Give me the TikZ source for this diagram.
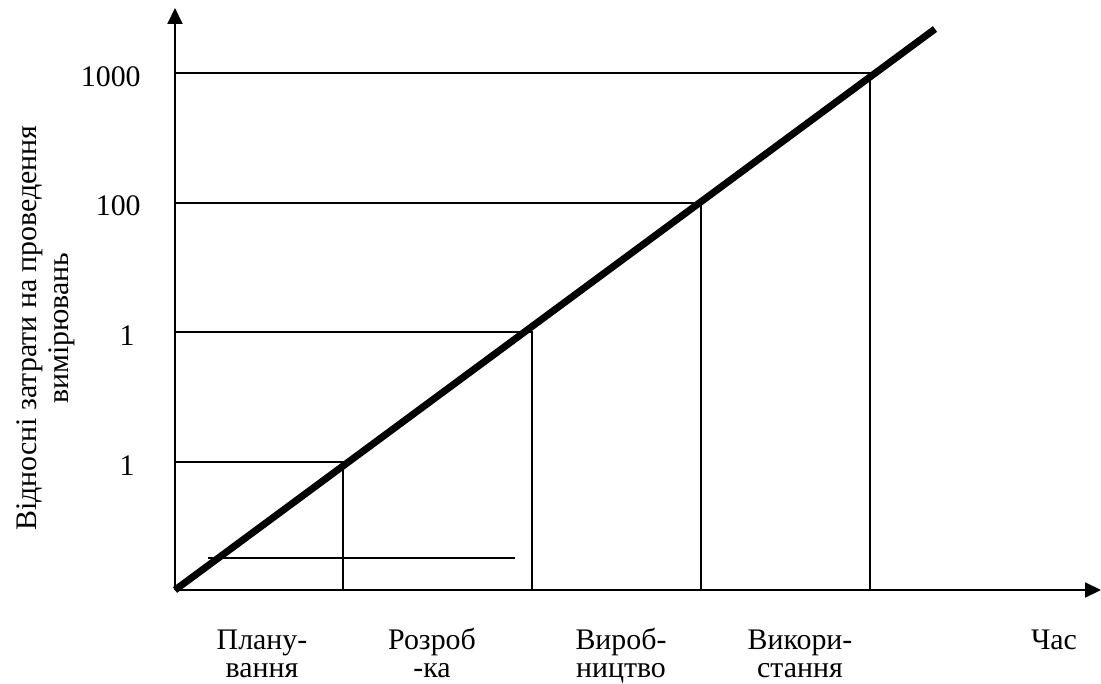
\documentclass[tikz,border=0pt]{standalone}
\usepackage{fontspec}
\setmainfont{Liberation Serif}
\usetikzlibrary{arrows.meta}
\newcommand{\tallrow}{\rule{0pt}{12.5pt}}

\begin{document}
\begin{tikzpicture}
    [x=0.02cm, y=0.02cm, font=\fontsize{17}{16}\selectfont,
     axis/.style={line width=1.1pt, -{Triangle[length=0.32cm, width=0.3cm]}},
     help line/.style={line width=0.9pt},
     cost line/.style={line width=4pt},
     level/.style={anchor=base east, inner sep=0pt},
     phase/.style={align=center, anchor=north, inner sep=0pt}]
    \useasboundingbox (-175, -93) rectangle (926, 590);
    \coordinate (o) at (0, 0);
    \coordinate (ytip) at (0, 582);
    \coordinate (xtip) at (926, 0);
    \draw[axis] (o) -- (ytip);
    \draw[axis] (o) -- (xtip);
    % levels and phase borders
    \coordinate (p1) at (168, 128);
    \coordinate (p2) at (357, 258);
    \coordinate (p3) at (526, 387);
    \coordinate (p4) at (695, 517);
    \draw[help line] (p1 |- o) -- (p1) -- (o |- p1);
    \draw[help line] (p2 |- o) -- (p2) -- (o |- p2);
    \draw[help line] (p3 |- o) -- (p3) -- (o |- p3);
    \draw[help line] (p4 |- o) -- (p4) -- (o |- p4);
    \coordinate (s1) at (33, 32);
    \coordinate (s2) at (340, 32);
    \draw[help line] (s1) -- (s2);
    \coordinate (top) at (760, 561);
    \draw[cost line] (o) -- (top);
    % scale
    \node[level] (l1) at (-40, 115) {1};
    \node[level] (l2) at (-40, 245) {1};
    \node[level] (l3) at (-34, 374) {100};
    \node[level] (l4) at (-34, 503) {1000};
    \node[rotate=90, align=center, font=\fontsize{17}{18}\selectfont] (ylab)
      at (-129, 262) {Відносні затрати на проведення\\вимірювань};
    % phases
    \node[phase] (plan) at (87, -37) {\tallrow Плану-\\\strut вання};
    \node[phase] (dev) at (257, -37) {\tallrow Розроб\\\strut -ка};
    \node[phase] (prod) at (446, -37) {\tallrow Вироб-\\\strut ництво};
    \node[phase] (use) at (625, -37) {\tallrow Викори-\\\strut стання};
    \node[phase] (time) at (879, -37) {\tallrow Час};
  \end{tikzpicture}
\end{document}
